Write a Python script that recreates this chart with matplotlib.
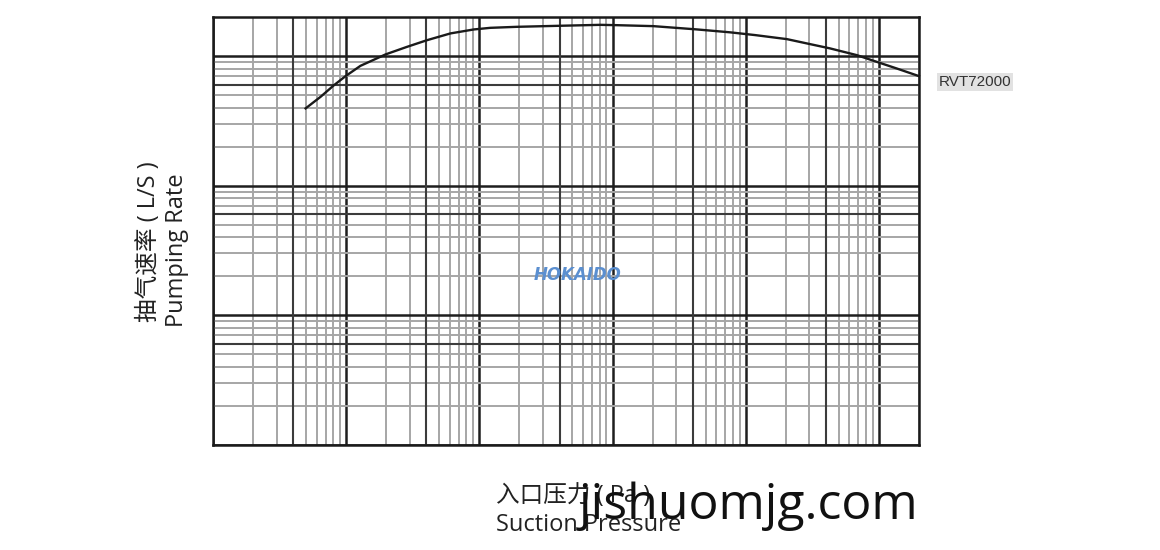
import numpy as np
import matplotlib
matplotlib.use("Agg")
import matplotlib.pyplot as plt
from matplotlib.ticker import LogLocator, NullFormatter

plt.rcParams['font.family'] = ['Open Sans', 'Noto Sans CJK SC', 'DejaVu Sans']

# pumping curve (Pa, L/s)
pressure = [0.496, 0.643, 0.809, 0.99, 1.28, 1.98, 2.87, 4.06, 6.07, 9.08, 12.1, 19.2,
            39, 81, 107, 203, 430, 765, 1180, 2040, 3050, 4300, 6830, 9640, 13600, 20000]
speed = [3945, 4850, 5950, 7000, 8400, 10300, 11780, 13260, 14940, 16030, 16500, 16800,
         17100, 17400, 17300, 17000, 16040, 15230, 14500, 13500, 12350, 11450, 10160, 9020, 8020, 7000]
model = "RVT72000"

x_lim = (0.1, 20000)
y_lim = (10, 20000)

fig = plt.figure(figsize=(11.6, 5.5), dpi=100)
ax = fig.add_axes([0.1836, 0.1909, 0.6086, 0.7782])
ax.set_xscale('log')
ax.set_yscale('log')
ax.set_xlim(*x_lim)
ax.set_ylim(*y_lim)

ax.xaxis.set_major_locator(LogLocator(base=10))
ax.yaxis.set_major_locator(LogLocator(base=10))
ax.xaxis.set_minor_locator(LogLocator(base=10, subs=np.arange(2, 10)))
ax.yaxis.set_minor_locator(LogLocator(base=10, subs=np.arange(2, 10)))
ax.xaxis.set_minor_formatter(NullFormatter())
ax.yaxis.set_minor_formatter(NullFormatter())
ax.tick_params(which='both', length=0, labelbottom=False, labelleft=False)

ax.grid(which='minor', color='#a6a6a6', linewidth=1.4)
ax.grid(which='major', color='#1e1e1e', linewidth=1.8)
ax.set_axisbelow(True)

# darker sub lines (x4 on pressure axis, x6 on speed axis)
for d in [0.1, 1, 10, 100, 1000]:
    ax.axvline(4 * d, color='#3c3c3c', linewidth=1.5, zorder=0.6)
for d in [10, 100, 1000]:
    ax.axhline(6 * d, color='#3c3c3c', linewidth=1.5, zorder=0.6)

for s in ax.spines.values():
    s.set_color('#1a1a1a')
    s.set_linewidth(1.8)

ax.plot(pressure, speed, color='#1a1a1a', linewidth=1.7, zorder=3, clip_on=False,
        solid_joinstyle='round')

fig.text(0.8095, 0.851, model, fontsize=11, family='Liberation Sans', color='#333333',
         va='center', ha='left',
         bbox=dict(boxstyle='square,pad=0.12', facecolor='#e2e2e2', edgecolor='none'))

# axis titles
fig.text(0.128, 0.56, "抽气速率 ( L/S )", rotation=90, fontsize=17, color='#222222',
         ha='center', va='center')
fig.text(0.153, 0.545, "Pumping Rate", rotation=90, fontsize=17, color='#222222',
         ha='center', va='center')
fig.text(0.428, 0.098, "入口压力 ( Pa )", fontsize=17, color='#222222', ha='left', va='center')
fig.text(0.428, 0.046, "Suction Pressure", fontsize=17, color='#222222', ha='left', va='center')

# logo and watermark
ax.text(0.516, 0.397, "HOKAIDO", transform=ax.transAxes, fontsize=12, fontweight='bold',
        style='italic', color='#5b8fd0', ha='center', va='center', family='DejaVu Sans')
fig.text(0.499, 0.079, "jishuomjg.com", fontsize=36, color='#111111', ha='left', va='center')

fig.savefig("out.png", dpi=100)
